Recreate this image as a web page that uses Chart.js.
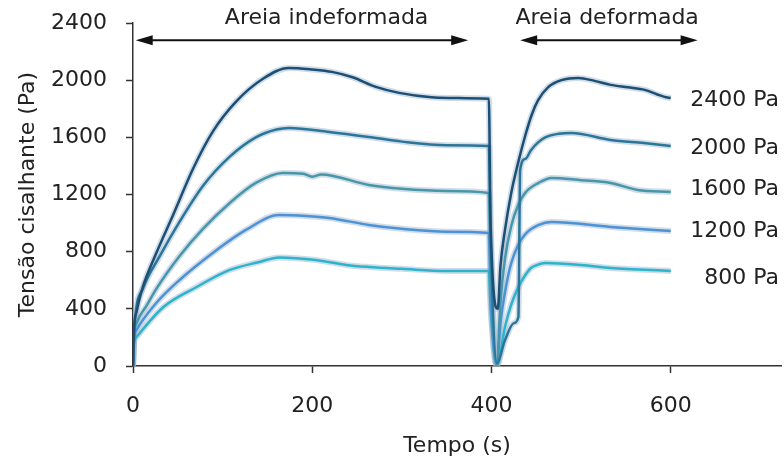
<!DOCTYPE html>
<html>
<head>
<meta charset="utf-8">
<script src="https://cdn.jsdelivr.net/npm/chart.js@4.4.1/dist/chart.umd.min.js"></script>
<style>
  body { margin: 0; background: #fff; }
  #wrap { width: 784px; height: 464px; }
</style>
</head>
<body>
<div id="wrap"><canvas id="grafico_tensao"></canvas></div>
<script>
// tempo (s) e tensao (Pa)
const t2400 = [0, 1, 4, 11, 26, 45, 67, 89, 115, 145, 174, 200, 222, 245, 271, 297, 333, 360, 389, 397, 399, 407, 410, 415, 422, 430, 438, 445, 452, 463, 478, 497, 515, 533, 552, 571, 585, 593, 600];
const v2400 = [0, 250, 380, 553, 790, 1060, 1380, 1640, 1850, 2010, 2086, 2075, 2058, 2020, 1953, 1911, 1880, 1875, 1872, 1870, 1000, 400, 700, 950, 1211, 1430, 1620, 1760, 1860, 1950, 2000, 2016, 1995, 1967, 1950, 1932, 1900, 1883, 1875];

const t2000 = [0, 2, 11, 30, 52, 78, 108, 137, 160, 174, 219, 263, 300, 350, 397, 399, 406, 415, 425, 430, 432, 438, 444, 452, 460, 475, 489, 533, 570, 600];
const v2000 = [0, 300, 540, 770, 1010, 1260, 1465, 1600, 1655, 1666, 1638, 1603, 1570, 1545, 1540, 900, 20, 180, 300, 343, 1372, 1450, 1510, 1565, 1600, 1625, 1631, 1582, 1560, 1540];

const t1600 = [0, 1, 4, 15, 26, 52, 78, 108, 137, 167, 190, 200, 210, 263, 300, 350, 397, 399, 406, 410, 415, 422, 430, 438, 452, 467, 500, 533, 563, 600];
const v1600 = [0, 200, 300, 420, 540, 770, 960, 1141, 1281, 1351, 1345, 1325, 1340, 1267, 1240, 1225, 1211, 700, 0, 450, 750, 980, 1130, 1215, 1280, 1316, 1300, 1281, 1232, 1218];

const t1200 = [0, 1, 4, 26, 52, 89, 126, 163, 193, 219, 263, 300, 350, 397, 399, 406, 410, 416, 422, 430, 438, 452, 467, 533, 600];
const v1200 = [0, 180, 252, 441, 602, 791, 952, 1057, 1050, 1036, 987, 960, 940, 931, 500, 0, 300, 550, 720, 850, 925, 985, 1008, 973, 945];

const t800 = [0, 1, 4, 34, 71, 108, 141, 163, 204, 238, 263, 300, 350, 397, 399, 406, 415, 422, 430, 437, 444, 450, 460, 500, 533, 600];
const v800 = [0, 150, 203, 413, 553, 672, 728, 760, 742, 707, 693, 680, 665, 665, 400, 0, 273, 430, 553, 630, 686, 705, 721, 707, 686, 665];

const rotulos = ['2400 Pa', '2000 Pa', '1600 Pa', '1200 Pa', '800 Pa'];
const xTicks = [0, 200, 400, 600];
const yTicks = [0, 400, 800, 1200, 1600, 2000, 2400];

const series = [[t2400, v2400], [t2000, v2000], [t1600, v1600], [t1200, v1200], [t800, v800]];
const cores = ['#1d4e74', '#2b7599', '#4896aa', '#4d92d6', '#2db4cc'];
const fonte = "'DejaVu Sans', sans-serif";

function pontos(t, v) {
    return t.map(function (x, i) { return { x: x, y: v[i] }; });
}

const datasets = [];
series.forEach(function (s, i) {
    // halo claro por baixo da linha
    datasets.push({
        data: pontos(s[0], s[1]),
        borderColor: 'rgba(150,180,205,0.45)',
        borderWidth: 6,
        pointRadius: 0,
        cubicInterpolationMode: 'monotone',
        order: 20
    });
    datasets.push({
        label: rotulos[i],
        data: pontos(s[0], s[1]),
        borderColor: cores[i],
        borderWidth: 2.5,
        pointRadius: 0,
        cubicInterpolationMode: 'monotone',
        order: i + 1
    });
});

function seta(ctx, x1, x2, y) {
    const L = 17, H = 5;
    ctx.beginPath();
    ctx.moveTo(x1 + L - 2, y);
    ctx.lineTo(x2 - L + 2, y);
    ctx.lineWidth = 2;
    ctx.strokeStyle = '#111';
    ctx.stroke();
    ctx.fillStyle = '#111';
    ctx.beginPath();
    ctx.moveTo(x1, y); ctx.lineTo(x1 + L, y - H); ctx.lineTo(x1 + L, y + H); ctx.closePath(); ctx.fill();
    ctx.beginPath();
    ctx.moveTo(x2, y); ctx.lineTo(x2 - L, y - H); ctx.lineTo(x2 - L, y + H); ctx.closePath(); ctx.fill();
}

const anotacoes = {
    id: 'anotacoes',
    afterDraw: function (chart) {
        const ctx = chart.ctx;
        const xs = chart.scales.x, ys = chart.scales.y;
        const ya = ys.getPixelForValue(2280);
        ctx.save();
        seta(ctx, xs.getPixelForValue(3), xs.getPixelForValue(374), ya);
        seta(ctx, xs.getPixelForValue(432), xs.getPixelForValue(630), ya);
        ctx.font = '22px ' + fonte;
        ctx.fillStyle = '#222';
        ctx.textAlign = 'center';
        ctx.textBaseline = 'middle';
        ctx.fillText('Areia indeformada', xs.getPixelForValue(216), ya - 22);
        ctx.fillText('Areia deformada', xs.getPixelForValue(529), ya - 22);
        // rotulos das curvas
        ctx.textAlign = 'right';
        const ajuste = [2, 2, -3, 0, 7];
        series.forEach(function (s, i) {
            const ult = s[1][s[1].length - 1];
            ctx.fillText(rotulos[i], chart.chartArea.right - 2, ys.getPixelForValue(ult) + ajuste[i]);
        });
        ctx.restore();
    }
};

new Chart(document.getElementById('grafico_tensao').getContext('2d'), {
    type: 'line',
    data: { datasets: datasets },
    plugins: [anotacoes],
    options: {
        responsive: true,
        maintainAspectRatio: false,
        animation: false,
        layout: { padding: { top: 23, right: 3, left: 0, bottom: 0 } },
        plugins: { legend: { display: false }, tooltip: { enabled: false } },
        scales: {
            x: {
                type: 'linear',
                min: 0,
                max: 723,
                afterBuildTicks: function (s) { s.ticks = xTicks.map(function (v) { return { value: v }; }); },
                afterFit: function (s) { s.height = 98; s.paddingLeft = 0; s.paddingRight = 0; },
                ticks: { font: { size: 22, family: fonte }, color: '#222', padding: 20, maxRotation: 0, callback: function (v) { return String(v); } },
                grid: { drawOnChartArea: false, drawTicks: true, tickLength: 7, tickWidth: 1.5, tickColor: '#333' },
                border: { color: '#333', width: 1.5 },
                title: { display: true, text: 'Tempo (s)', font: { size: 22, family: fonte }, color: '#222', padding: { top: 0, bottom: 5 } }
            },
            y: {
                min: 0,
                max: 2400,
                afterBuildTicks: function (s) { s.ticks = yTicks.map(function (v) { return { value: v }; }); },
                afterFit: function (s) { s.width = 133; s.paddingTop = 0; s.paddingBottom = 0; },
                ticks: { font: { size: 22, family: fonte }, color: '#222', padding: 19, callback: function (v) { return String(v); } },
                grid: { drawOnChartArea: false, drawTicks: true, tickLength: 7, tickWidth: 1.5, tickColor: '#333' },
                border: { color: '#333', width: 1.5 },
                title: { display: true, text: 'Tensão cisalhante (Pa)', font: { size: 22, family: fonte }, color: '#222', padding: { top: 15, bottom: 0 } }
            }
        }
    }
});
</script>
</body>
</html>
